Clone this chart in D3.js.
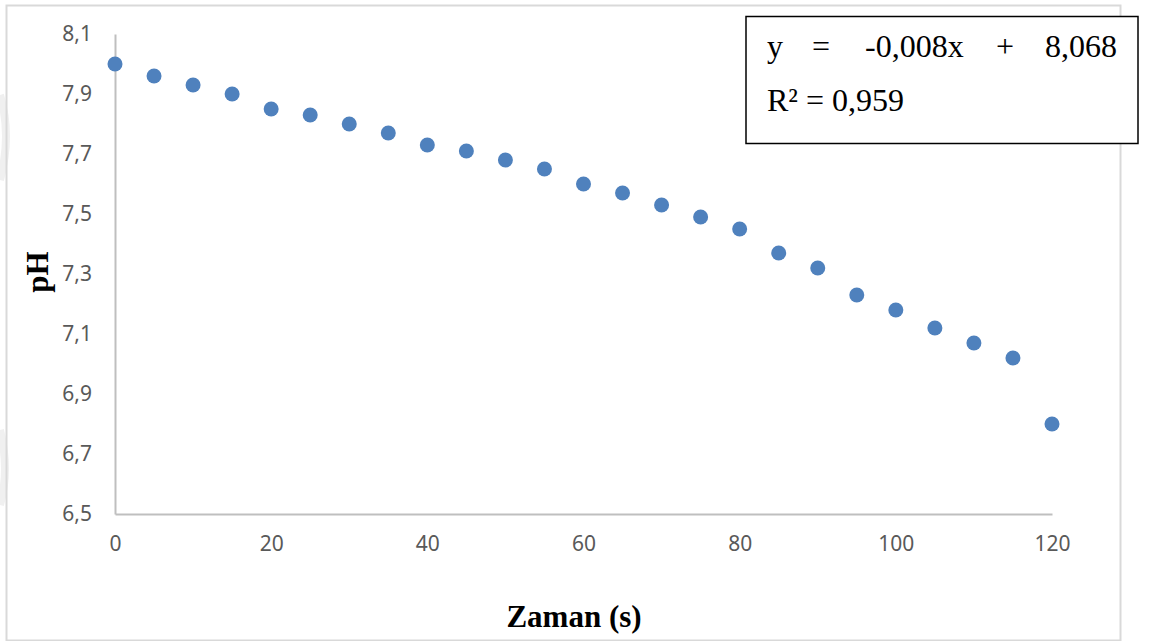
<!DOCTYPE html>
<html>
<head>
<meta charset="utf-8">
<script src="https://cdn.jsdelivr.net/npm/d3@7"></script>
<style>
  body { margin: 0; background: #fff; }
  svg { display: block; }
</style>
</head>
<body>
<div id="chart"></div>
<script>
// Data
const times = [0, 5, 10, 15, 20, 25, 30, 35, 40, 45, 50, 55, 60, 65, 70, 75, 80, 85, 90, 95, 100, 105, 110, 115, 120];
const phValues = [8.00, 7.96, 7.93, 7.90, 7.85, 7.83, 7.80, 7.77, 7.73, 7.71, 7.68, 7.65, 7.60, 7.57, 7.53, 7.49, 7.45, 7.37, 7.32, 7.23, 7.18, 7.12, 7.07, 7.02, 6.80];
const xTicks = [0, 20, 40, 60, 80, 100, 120];
const yTicks = [6.5, 6.7, 6.9, 7.1, 7.3, 7.5, 7.7, 7.9, 8.1];
const eqParts = ["y", "=", "-0,008x", "+", "8,068"];
const r2Label = "R² = 0,959";

const W = 1155, H = 641;
const plot = {left: 115, right: 1052, top: 34, bottom: 514};

const svg = d3.select("#chart")
    .append("svg")
    .attr("width", W)
    .attr("height", H);

// faint watermark at the left edge
svg.append("path")
    .attr("d", "M0,95 Q12,135 0,180 M0,430 Q10,470 0,505")
    .attr("fill", "none")
    .attr("stroke", "#f0f0f0")
    .attr("stroke-width", 8);

// outer frame
svg.append("rect")
    .attr("x", 6.5).attr("y", 5.5)
    .attr("width", 1114).attr("height", 635)
    .attr("fill", "none")
    .attr("stroke", "#d9d9d9")
    .attr("stroke-width", 2);

// Scales
const x = d3.scaleLinear().domain([0, 120]).range([plot.left, plot.right]);
const y = d3.scaleLinear().domain([6.5, 8.1]).range([plot.bottom, plot.top]);
const fmt = d => d3.format(".1f")(d).replace(".", ",");

// X axis
const xAxis = svg.append("g")
    .attr("transform", `translate(0,${plot.bottom})`)
    .call(d3.axisBottom(x).tickValues(xTicks).tickSize(0).tickPadding(22).tickFormat(d3.format("d")));
xAxis.select(".domain").attr("stroke", "#bfbfbf").attr("stroke-width", 2);
xAxis.selectAll("text")
    .attr("fill", "#595959")
    .style("font-family", "'Noto Sans', 'Open Sans', sans-serif")
    .style("font-size", "21px");

// Y axis
const yAxis = svg.append("g")
    .attr("transform", `translate(${plot.left},0)`)
    .call(d3.axisLeft(y).tickValues(yTicks).tickSize(0).tickPadding(23).tickFormat(fmt));
yAxis.select(".domain").attr("stroke", "#bfbfbf").attr("stroke-width", 2);
yAxis.selectAll("text")
    .attr("fill", "#595959")
    .style("font-family", "'Noto Sans', 'Open Sans', sans-serif")
    .style("font-size", "21px");

// Points
svg.selectAll(".dot")
    .data(times.map((t, i) => ({t: t, v: phValues[i]})))
    .enter()
    .append("circle")
    .attr("class", "dot")
    .attr("cx", d => x(d.t))
    .attr("cy", d => y(d.v))
    .attr("r", 7.5)
    .attr("fill", "#4f81bd");

// Axis titles
svg.append("text")
    .attr("x", 574).attr("y", 627)
    .attr("text-anchor", "middle")
    .style("font-family", "'Liberation Serif', 'Times New Roman', serif")
    .style("font-weight", "bold")
    .style("font-size", "31px")
    .text("Zaman (s)");

svg.append("text")
    .attr("transform", "translate(48,272) rotate(-90)")
    .attr("text-anchor", "middle")
    .style("font-family", "'Liberation Serif', 'Times New Roman', serif")
    .style("font-weight", "bold")
    .style("font-size", "31px")
    .text("pH");

// Equation box
svg.append("rect")
    .attr("x", 746).attr("y", 16.5)
    .attr("width", 392).attr("height", 127)
    .attr("fill", "#fff")
    .attr("stroke", "#000")
    .attr("stroke-width", 1.5);

const eqX = [767, 812, 865, 996, 1045];
const eq = svg.append("g")
    .style("font-family", "'Liberation Serif', 'Times New Roman', serif")
    .style("font-size", "32px")
    .attr("fill", "#000");
eq.selectAll("text.eq")
    .data(eqParts)
    .enter()
    .append("text")
    .attr("class", "eq")
    .attr("x", (d, i) => eqX[i])
    .attr("y", 57)
    .text(d => d);
eq.append("text")
    .attr("x", 767).attr("y", 111)
    .text(r2Label);
</script>
</body>
</html>
